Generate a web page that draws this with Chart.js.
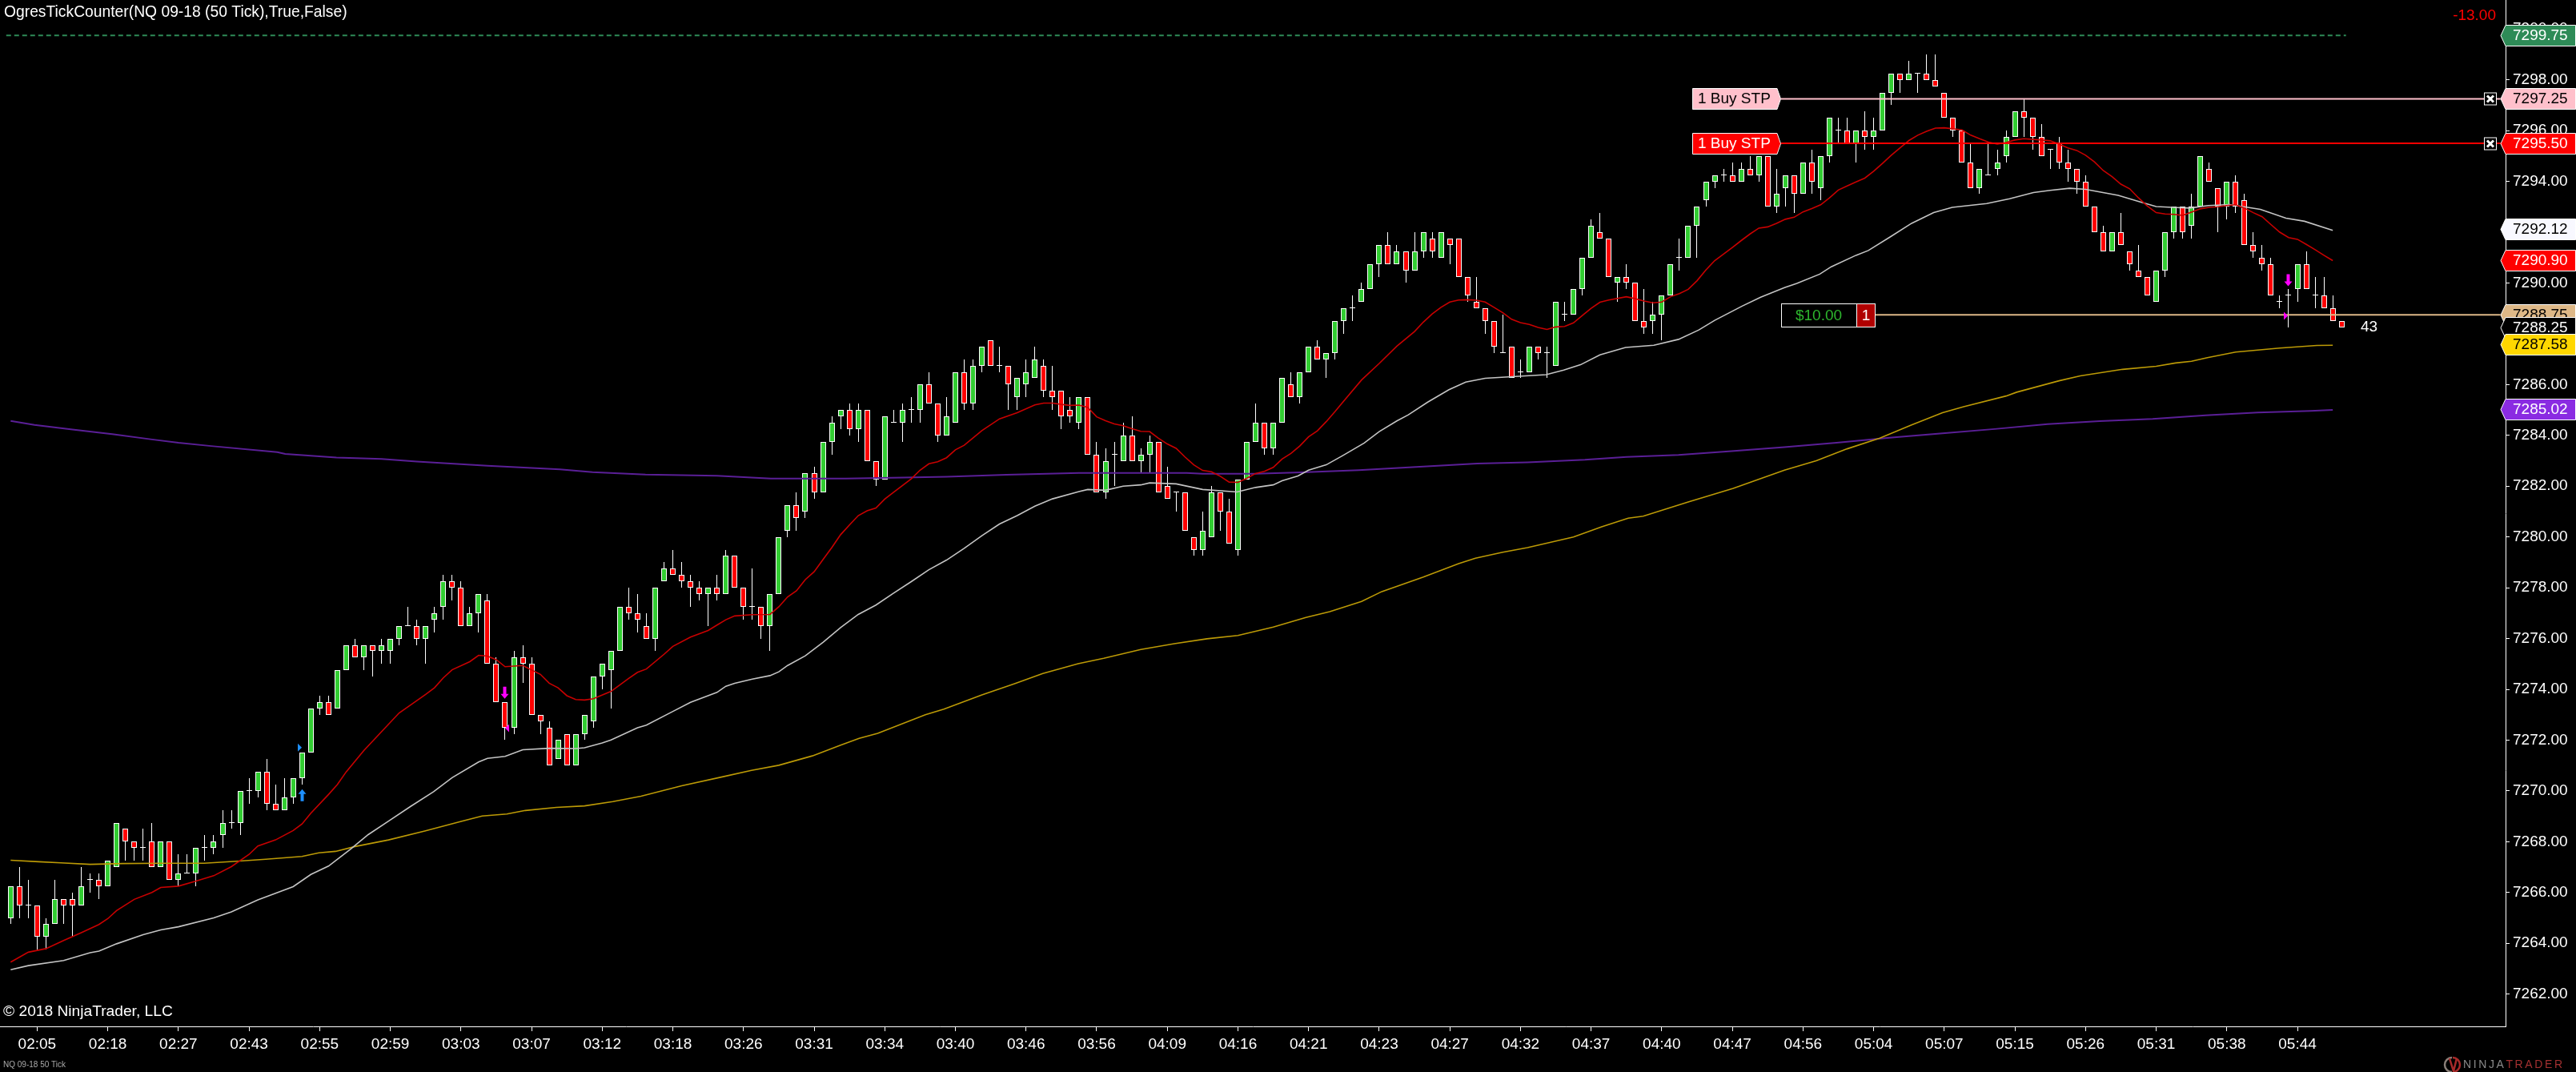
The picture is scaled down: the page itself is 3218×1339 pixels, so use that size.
<!DOCTYPE html>
<html><head><meta charset="utf-8">
<script src="https://cdn.jsdelivr.net/npm/chart.js@4"></script>
<style>html,body{margin:0;padding:0;background:#000;overflow:hidden}canvas{display:block}</style>
</head><body><canvas id="c" width="3218" height="1339"></canvas>
<script>
const opens=[7265,7266.25,7265.5,7265.5,7264.25,7264.75,7265.75,7265.75,7265.5,7266.5,
7266.5,7266.25,7267,7268.5,7268,7267.75,7268,7267,7268,7266.5,
7266.75,7266.75,7267.75,7267.75,7268.25,7268.75,7268.75,7270,7270,7270.75,
7269.5,7269.25,7269.75,7270.5,7271.5,7273.25,7273.5,7273.25,7274.75,7275.75,
7275.25,7275.75,7275.5,7275.5,7276,7276.5,7276.5,7276,7276.75,7277.25,
7278.25,7278,7276.5,7277,7277.5,7275,7273.5,7272.5,7275.25,7275,
7273,7272.5,7271.25,7272.25,7271,7272.25,7272.75,7274.5,7274.75,7275.5,
7277.25,7277,7276.5,7276,7278.25,7278.75,7278.5,7278.25,7278,7277.75,
7278,7277.75,7279.25,7278,7277.25,7277.25,7276.5,7277.75,7280.25,7281.25,
7281,7282.5,7281.75,7283.75,7284.75,7285,7284.25,7285,7283,7282.25,
7284.5,7284.5,7285,7285,7286,7285.25,7284,7284.5,7286.5,7285.25,
7286.75,7287.75,7286.75,7286.75,7285.5,7286,7286.25,7286.75,7285.75,7285.75,
7285,7284.5,7285.5,7283.25,7281.75,7283.25,7283,7284,7283,7283.25,
7283.75,7282,7281.75,7281.75,7280,7279.5,7280,7281.75,7281,7279.5,
7282.25,7283.75,7284.5,7283.5,7284.5,7286,7285.5,7286.5,7287.5,7287,
7287.25,7288.5,7289,7289.25,7289.75,7290.75,7291.5,7290.75,7291.25,7290.5,
7291.25,7291.75,7291,7291.75,7291.75,7290.25,7289.25,7289,7288.5,7287.25,
7287.5,7286.5,7286.5,7287.5,7287.25,7286.75,7288.75,7288.75,7289.75,7291,
7292,7291.75,7290,7290.25,7290,7288.5,7288.5,7288.75,7289.5,7291,
7291,7292.25,7293.25,7294,7294.25,7294.25,7294,7294.5,7294.25,7295,
7293,7293.75,7294.25,7293.5,7294.75,7293.75,7295,7296,7296,7295.5,
7296,7295.75,7296,7297.5,7298.25,7298,7298.25,7298.25,7298,7297.5,
7296.5,7296,7294.75,7293.75,7294.25,7294.5,7295,7295.75,7296.75,7296.5,
7295.75,7295.25,7295.5,7294.75,7294.5,7294,7293,7292,7291.25,7292,
7291.25,7290.5,7290.25,7289.25,7290.5,7292,7293,7292.25,7293,7294.5,
7293.75,7293,7294,7293.25,7291.5,7291,7290.75,7289.25,7289.5,7289.75,
7290.75,7289.5,7289.5,7289,7288.5];
const highs=[7266.25,7267,7266.5,7265.5,7265,7266.5,7265.75,7266,7267,7266.75,
7266.75,7267.25,7268.75,7268.5,7268,7268.5,7268.75,7268,7268,7267.5,
7267.5,7267.75,7268.25,7268.25,7269.25,7269.25,7270,7270.5,7270.75,7271.25,
7270.25,7270.5,7270.5,7271.5,7273.25,7273.75,7273.75,7274.75,7275.75,7276,
7275.75,7275.75,7276,7276,7276.5,7277.25,7276.75,7276.5,7277.25,7278.5,
7278.5,7278.25,7277.25,7277.75,7277.75,7275.25,7273.5,7275.5,7275.75,7275.25,
7273,7272.75,7272,7272.25,7272.25,7273,7274.5,7275,7275.5,7277.25,
7278,7277.75,7277,7278,7279,7279.5,7279,7278.5,7278.25,7278,
7278.5,7279.5,7279.25,7278,7278.75,7277.25,7277.75,7280,7281.25,7281.75,
7282.5,7282.75,7283.75,7284.75,7285,7285.25,7285.25,7285,7283,7284.75,
7285,7285.25,7285.5,7286,7286.5,7285.25,7285.5,7286.5,7287,7287,
7287.5,7287.75,7287.5,7286.75,7286.25,7287,7287.5,7287,7286.75,7285.75,
7285.5,7285.5,7285.5,7283.75,7283.5,7283.75,7284.5,7284.75,7283.5,7284,
7283.75,7282.75,7281.75,7281.75,7280,7281,7282,7281.75,7281.5,7282.25,
7283.75,7285.25,7284.5,7284.5,7286.25,7286.5,7286.5,7287.5,7287.75,7287.25,
7288.5,7289,7289.5,7290,7290.75,7291.5,7292,7291.5,7291.25,7292,
7292,7292,7292,7291.75,7291.75,7290.25,7290.25,7289,7288.5,7288.75,
7287.5,7287,7287.5,7287.5,7287.5,7289.25,7289.25,7289.75,7291,7292.5,
7292.75,7291.75,7290.25,7290.75,7290,7289.75,7289.25,7289.5,7290.75,7291.75,
7292.25,7293,7294,7294.25,7294.5,7294.75,7294.75,7295,7295,7295,
7294.5,7294.25,7294.25,7294.75,7295.25,7295,7296.5,7296.5,7296.5,7296,
7296.75,7296.5,7297.5,7298.25,7298.25,7298.75,7298.25,7299,7299,7297.5,
7296.5,7296,7295.5,7294.5,7295.5,7295.25,7296,7296.75,7297.25,7296.5,
7296.25,7295.25,7295.75,7295.25,7294.5,7294.25,7293,7292.25,7292,7292.75,
7291.25,7291.5,7290.25,7290.5,7292,7293,7293,7293.5,7295,7294.75,
7293.75,7294,7294.25,7293.5,7292,7291.5,7291,7289.5,7289.75,7290.75,
7291.25,7290.25,7290.25,7289.5,7288.5];
const lows=[7264.75,7265,7265,7263.75,7263.75,7264.75,7264.75,7264.25,7265.5,7266,
7265.75,7266.25,7267,7267.25,7267.25,7267.25,7267,7267,7266.5,7266.25,
7266.75,7266.25,7267.25,7267.5,7267.75,7268.5,7268.25,7269.5,7269.75,7269.25,
7269.25,7269.25,7269.5,7270.25,7271.5,7273,7273,7273.25,7274.75,7275.25,
7274.75,7274.5,7275,7275,7275.75,7276.5,7275.75,7275,7276.25,7276.75,
7277.5,7276.5,7276.5,7276.25,7275,7273.5,7272,7272.25,7274.25,7273,
7272.25,7271,7271.25,7271,7271,7272,7272.5,7274,7273.25,7275.5,
7276.75,7276.25,7276,7275.5,7278.25,7278.5,7278,7277.25,7277.5,7276.5,
7277.5,7277.75,7278,7276.75,7276.75,7276,7275.5,7277.75,7280,7280.25,
7280.75,7281.5,7281.75,7283.25,7284.25,7284,7283.75,7283,7282,7282.25,
7284.5,7283.75,7284.5,7284.5,7285.25,7283.75,7284,7284.5,7285,7285,
7286.5,7286.75,7286.5,7285,7285,7285.5,7286.25,7285.5,7285,7284.25,
7284.5,7284.25,7283.25,7281.75,7281.5,7282,7283,7283,7282.5,7282.5,
7281.75,7281.5,7281,7280.25,7279.25,7279.25,7280,7280.25,7279.75,7279.25,
7282.25,7283.75,7283.25,7283.25,7284.5,7285.5,7285.25,7286.5,7287,7286.25,
7287,7288,7288.5,7289.25,7289.75,7290.25,7290.75,7290.75,7290,7290.5,
7291,7291,7291,7290.75,7290.25,7289.25,7289,7288,7287.25,7287.25,
7286.25,7286.25,7286.5,7287,7286.25,7286.75,7288.5,7288.75,7289.5,7291,
7291.75,7290.25,7289.25,7289.75,7288.5,7288,7288,7287.75,7289.5,7290.5,
7291,7291,7293,7293.75,7294,7294,7294,7294.25,7294,7293,
7292.75,7293,7292.75,7293.5,7293.5,7293.25,7294.75,7295.5,7295.5,7294.75,
7295.25,7295.25,7296,7297,7297.5,7298,7297.5,7298,7297.75,7296.5,
7295.75,7294.75,7293.75,7293.5,7294.25,7294.25,7294.75,7295.75,7295.75,7295.25,
7295,7294.5,7294.5,7294,7293.5,7293,7292,7291.25,7291.25,7291.5,
7290.5,7290.25,7289.5,7289.25,7290.25,7291.75,7291.75,7291.75,7293,7294,
7292,7292.5,7292.75,7291.5,7291,7290.5,7289.5,7289,7288.25,7289.25,
7289.75,7289,7289,7288.5,7288.25];
const closes=[7266.25,7265.5,7265.5,7264.25,7264.75,7265.75,7265.5,7265.5,7266.25,7266.5,
7266.25,7267.25,7268.75,7268,7267.75,7267.75,7267,7268,7266.5,7266.75,
7266.75,7267.75,7267.75,7268,7268.75,7268.75,7270,7270,7270.75,7269.5,
7269.25,7269.75,7270.5,7271.5,7273.25,7273.5,7273,7274.75,7275.75,7275.25,
7275.75,7275.5,7275.75,7276,7276.5,7276.5,7276,7276.5,7277,7278.25,
7278,7276.5,7277,7277.75,7275,7273.5,7272.5,7275.25,7275,7273,
7272.75,7271,7272,7271,7272.25,7273,7274.5,7275,7275.5,7277.25,
7277,7276.75,7276,7278,7278.75,7278.5,7278.25,7278,7277.75,7278,
7277.75,7279.25,7278,7277.25,7277.25,7276.5,7277.75,7280,7281.25,7280.75,
7282.5,7281.75,7283.75,7284.5,7285,7284.25,7285,7283,7282.25,7284.75,
7284.5,7285,7285,7286,7285.25,7284,7284.75,7286.5,7285.25,7286.75,
7287.5,7286.75,7286.75,7286,7286.25,7286.5,7287,7285.75,7285.5,7284.75,
7284.75,7285.5,7283.25,7281.75,7283,7283.25,7284,7283,7283.25,7283.75,
7281.75,7281.5,7281.75,7280.25,7279.5,7280.25,7281.75,7281,7279.75,7282.25,
7283.75,7284.5,7283.5,7284.5,7286.25,7285.5,7286.5,7287.5,7287,7287.25,
7288.5,7289,7289,7289.75,7290.75,7291.5,7290.75,7291.25,7290.5,7291.25,
7292,7291.25,7292,7291.5,7290.25,7289.5,7289,7288.5,7287.5,7287.25,
7286.25,7286.5,7287.5,7287.25,7287.25,7289.25,7288.75,7289.75,7291,7292.25,
7291.75,7290.25,7290.25,7290,7288.5,7288.25,7288.75,7289.5,7290.75,7291,
7292.25,7293,7294,7294.25,7294.25,7294,7294.5,7294.25,7295,7293,
7293.5,7294.25,7293.5,7294.75,7294,7295,7296.5,7296,7295.5,7296,
7295.75,7296,7297.5,7298.25,7298,7298.25,7298.25,7298,7297.75,7296.5,
7296,7294.75,7293.75,7294.5,7294.25,7294.75,7295.75,7296.75,7296.5,7295.75,
7295,7295.25,7294.75,7294.5,7294,7293,7292,7291.25,7292,7291.5,
7290.75,7290.25,7289.5,7290.5,7292,7293,7292,7293,7295,7294,
7293,7294,7293,7291.5,7291.25,7290.75,7289.5,7289.25,7289.5,7290.75,
7289.75,7289.5,7289,7288.5,7288.25];

const timeLabels=['02:05','02:18','02:27','02:43','02:55','02:59','03:03','03:07','03:12','03:18','03:26','03:31','03:34','03:40','03:46','03:56','04:09','04:16','04:21','04:23','04:27','04:32','04:37','04:40','04:47','04:56','05:04','05:07','05:15','05:26','05:31','05:38','05:44'];
const timeTickBars=[3,11,19,27,35,43,51,59,67,75,83,91,99,107,115,123,131,139,147,155,163,171,179,187,195,203,211,219,227,235,243,251,259];
const priceTicks=[7262,7264,7266,7268,7270,7272,7274,7276,7278,7280,7282,7284,7286,7288,7290,7292,7294,7296,7298,7300];

const redBars=[0,2,4,6,8,10,11,12,14,16,17,19,21,23,25,27,28,30,32,33,34,36,37,38,40,42,44,45,47,48,49,50,52,53,54,55,56,58,60,61,62,63,64,65,66,68,70,71,72,74,75,77,79,80,81,82,84,86,87,88,89,90,91,92,93,94,95,96,97,98,99,100,102,103,104,105,106,107,108,110,112,114,116,117,118,119,120,121,122,123,124,125,126,127,128,129,130,131,132,133,134,135,136,137,138,139,140,141,142,143,144,145,146,147,148,149,150,151,153,155,157,159,160,161,162,163,164,165,166,167,168,169,170,171,172,173,174,175,176,177,178,179,180,181,183,184,185,186,187,188,189,190,191,192,193,194,195,196,197,198,199,200,201,202,203,204,205,206,207,208,209,210,211,212,213,214,215,216,217,218,219,221,222,223,224,225,226,227,228,230,231,232,233,234,235,236,237,238,239,240,241,242,243,244,245,246,248,249,250,251,252,253,254,255,256,257,258,259,260,261,262,263];
const redEma=[7263.26,7263.65,7263.79,7264.11,7264.42,7264.74,7264.97,7265.29,7265.73,7266,7266.2,7266.25,7266.45,7266.66,7267.02,7267.5,7267.83,7268.07,7268.44,7268.7,7269.12,7269.86,7270.25,7270.75,7271.59,7272.33,7273.07,7273.31,7273.8,7274.06,7274.45,7274.77,7275.09,7275.34,7275.31,7275.17,7274.89,7274.94,7274.59,7274.24,7274.06,7273.75,7273.6,7273.58,7273.63,7273.92,7274.43,7274.67,7274.8,7275.38,7275.69,7276.06,7276.32,7276.53,7276.74,7276.89,7276.94,7276.95,7277.25,7277.64,7277.88,7278.32,7278.63,7279.11,7279.58,7280.09,7280.47,7280.84,7281.03,7281.14,7281.49,7281.76,7282.29,7282.63,7282.88,7282.96,7283.12,7283.43,7283.61,7284.19,7284.65,7284.89,7285.2,7285.27,7285.27,7285.22,7285.18,7285.19,7285.1,7284.73,7284.58,7284.45,7284.38,7284.26,7284.16,7284.15,7283.89,7283.66,7283.49,7283.15,7282.84,7282.62,7282.57,7282.39,7282.16,7282.15,7282.31,7282.5,7282.58,7282.74,7283.07,7283.29,7283.58,7283.94,7284.18,7284.54,7284.94,7285.36,7286.18,7286.83,7287.51,7288.09,7288.46,7288.78,7289.04,7289.25,7289.33,7289.34,7289.32,7289.25,7289.04,7288.83,7288.57,7288.44,7288.37,7288.25,7288.17,7288.27,7288.29,7288.43,7288.72,7289,7289.24,7289.33,7289.46,7289.38,7289.29,7289.22,7289.25,7289.46,7289.58,7289.75,7290.09,7290.51,7290.88,7291.14,7291.4,7291.67,7291.93,7292.16,7292.21,7292.35,7292.51,7292.59,7292.8,7292.93,7293.08,7293.35,7293.66,7293.82,7293.98,7294.13,7294.4,7294.71,7295.03,7295.32,7295.61,7295.82,7295.97,7296.1,7296.11,7296.03,7295.82,7295.68,7295.55,7295.47,7295.53,7295.63,7295.68,7295.63,7295.6,7295.47,7295.32,7295.22,7295.03,7294.77,7294.43,7294.19,7293.89,7293.71,7293.35,7293.03,7292.77,7292.72,7292.7,7292.66,7292.92,7292.98,7293,7293.05,7293.08,7292.95,7292.77,7292.61,7292.3,7292,7291.79,7291.72,7291.52,7291.31,7291.09,7290.88];

const silverBars=[0,2,6,9,10,12,15,17,19,23,25,28,32,34,36,38.5,40.5,42.8,45.3,47.9,50,53,54,56,58,61,64,65,67,68,71,72,75,77,80,81,82,84,86,87,88,90,92,94,96,98,100,102,104,106,108,110,112,114,116,118,121,122,124,126,128,129,132,135,138.9,141,143,144,145.8,147,149,150.9,153.3,155,157,158.3,160.5,162.9,164.8,167,170,173.9,175.9,177.8,180,182.9,186.1,188.9,191.2,193,196.1,198.2,200.9,202.3,204.9,206.2,209,210.4,212.9,215.3,217.8,219.9,223.8,226.4,229.1,231,233.2,235,238.7,241.2,243,245.3,246.8,248.9,251.3,252.8,254.8,257.7,259.8,263];
const silverEma=[7262.96,7263.12,7263.32,7263.63,7263.69,7263.98,7264.34,7264.53,7264.65,7265,7265.24,7265.71,7266.23,7266.71,7267.04,7267.71,7268.28,7268.81,7269.39,7269.97,7270.52,7271.14,7271.28,7271.36,7271.62,7271.68,7271.67,7271.7,7271.89,7272.01,7272.49,7272.59,7273.13,7273.49,7273.88,7274.12,7274.24,7274.4,7274.54,7274.69,7274.94,7275.32,7275.85,7276.43,7276.95,7277.32,7277.79,7278.24,7278.71,7279.09,7279.55,7280.05,7280.51,7280.84,7281.21,7281.5,7281.79,7281.87,7281.84,7282,7282.05,7282.13,7282.09,7281.87,7281.77,7281.95,7282.05,7282.21,7282.4,7282.63,7282.84,7283.21,7283.7,7284.15,7284.57,7284.81,7285.31,7285.8,7286.1,7286.25,7286.31,7286.39,7286.57,7286.78,7287.17,7287.46,7287.55,7287.78,7288.15,7288.53,7289.09,7289.44,7289.82,7289.98,7290.35,7290.64,7291.09,7291.28,7291.82,7292.35,7292.77,7292.98,7293.13,7293.32,7293.56,7293.65,7293.73,7293.69,7293.45,7293.19,7293.01,7292.97,7292.95,7293.05,7293.09,7293.01,7292.9,7292.55,7292.43,7292.07];

const goldBars=[0,3.2,5.7,9,12.7,17.3,21.9,25.6,28.9,33,34.9,36.8,39,42.8,46.9,51.1,53.4,56.2,58.3,61.8,65,68.2,71.4,76,80.7,83.9,87,90.8,94,96.1,98.2,103.6,105.7,110,113.7,116.9,120.9,123.8,128,131.8,135.5,139,143,146.7,149.4,153,155.3,160,164,165.9,169,171.8,177,180.2,183.2,184.9,190,195.1,197.9,200.9,204.5,208,211.7,215.3,218.8,221.2,226,227.2,232,234.4,239.2,243,245.2,247,248.8,252,257,261.2,263];
const goldEma=[7267.27,7267.21,7267.17,7267.11,7267.14,7267.15,7267.15,7267.23,7267.31,7267.42,7267.56,7267.62,7267.81,7268.07,7268.42,7268.81,7269.01,7269.09,7269.23,7269.35,7269.41,7269.58,7269.79,7270.2,7270.56,7270.81,7271.01,7271.38,7271.8,7272.07,7272.27,7273,7273.22,7273.78,7274.22,7274.62,7275.01,7275.22,7275.57,7275.8,7275.99,7276.12,7276.45,7276.83,7277.06,7277.46,7277.85,7278.42,7278.95,7279.16,7279.4,7279.58,7280,7280.4,7280.74,7280.82,7281.38,7281.91,7282.26,7282.63,7283,7283.47,7283.89,7284.41,7284.89,7285.13,7285.55,7285.7,7286.15,7286.34,7286.6,7286.72,7286.85,7286.92,7287.06,7287.28,7287.44,7287.54,7287.55];

const purpleBars=[0,2.7,7,11.5,16,19,22.7,30.2,31.1,36.9,42,46,54,62.2,65.9,71.9,80,86.1,94.6,101.1,106,112.8,121,133.2,135,141,146.2,152.7,160,166.1,171.8,178.3,183,188.9,194.9,200.9,206.8,212.8,218.8,224.7,230.7,236.6,242.6,248.6,254.5,260.5,263];
const purpleSma=[7284.57,7284.41,7284.23,7284.05,7283.84,7283.71,7283.58,7283.34,7283.27,7283.13,7283.07,7282.97,7282.8,7282.66,7282.55,7282.46,7282.41,7282.3,7282.3,7282.34,7282.37,7282.45,7282.52,7282.52,7282.49,7282.49,7282.54,7282.63,7282.77,7282.89,7282.94,7283.04,7283.15,7283.23,7283.38,7283.54,7283.71,7283.91,7284.08,7284.25,7284.44,7284.56,7284.65,7284.79,7284.9,7284.96,7285];

const lastPriceLine=7299.75;
const orderPrices=[7297.25,7295.5];
const orderColors=['#FFC0CB','#FF0000'];
const orderInks=['#000000','#FFFFFF'];
const positionPrice=7288.75;

const tagPrices=[7299.75,7297.25,7295.5,7292.12,7290.9,7288.75,7288.25,7287.58,7285.02];
const tagFills=['#2E8B57','#FFC0CB','#FF0000','#F8F8FF','#FF0000','#DEB887','#000000','#FFD700','#8A2BE2'];
const tagInks=['#FFFFFF','#000000','#FFFFFF','#000000','#FFFFFF','#000000','#FFFFFF','#000000','#FFFFFF'];

const arrowBars=[33,56,258];
const arrowTips=[7270.07,7273.63,7289.87];
const arrowDirs=['up','down','down'];
const arrowColors=['#1E90FF','#FF00FF','#FF00FF'];
const flagBars=[33,56,258];
const flagPrices=[7271.71,7272.47,7288.71];
const flagDirs=['right','left','right'];
const flagColors=['#1E90FF','#FF00FF','#FF00FF'];

const FONT='"Liberation Sans", Arial, sans-serif';
const zip=(xs,ys)=>xs.map((x,i)=>({x,y:ys[i]}));
const barIdx=opens.map((_,i)=>i);
const isDoji=i=>opens[i]===closes[i];
const lineDs=(label,xs,ys,color,width,order,extra)=>({type:'line',label,data:zip(xs,ys),borderColor:color,borderWidth:width,pointRadius:0,tension:0,order,fill:false,...(extra||{})});

const snap={id:'snap',beforeDatasetsDraw(chart){
  chart.data.datasets.forEach((d,di)=>{
    if(d.type==='line')return;
    const m=chart.getDatasetMeta(di);
    m.data.forEach(el=>{
      el.x=Math.floor(el.x)+0.5;
      el.y=Math.round(el.y);el.base=Math.round(el.base);
      if(Math.abs(el.base-el.y)<1)el.base=el.y+1;
    });
  });
}};

const overlay={id:'overlay',afterDraw(chart){
  const c=chart.ctx,X=chart.scales.x,Y=chart.scales.y;
  const text=(s,x,y,col,size=19,al='left')=>{c.font=size+'px '+FONT;c.fillStyle=col;c.textAlign=al;c.textBaseline='middle';c.fillText(s,x,y);};
  c.save();
  arrowBars.forEach((b,i)=>{
    const x=Math.floor(X.getPixelForValue(b))+0.5,t=Y.getPixelForValue(arrowTips[i]),s=arrowDirs[i]==='up'?1:-1;
    c.fillStyle=arrowColors[i];c.beginPath();
    c.moveTo(x,t);c.lineTo(x+5,t+6*s);c.lineTo(x+2,t+6*s);c.lineTo(x+2,t+15*s);c.lineTo(x-2,t+15*s);c.lineTo(x-2,t+6*s);c.lineTo(x-5,t+6*s);c.closePath();c.fill();
  });
  flagBars.forEach((b,i)=>{
    const x=Math.floor(X.getPixelForValue(b)),y=Y.getPixelForValue(flagPrices[i]);
    c.fillStyle=flagColors[i];c.beginPath();
    if(flagDirs[i]==='right'){c.moveTo(x,y);c.lineTo(x-5,y-5);c.lineTo(x-5,y+5);}
    else{c.moveTo(x+1,y);c.lineTo(x+6,y-5);c.lineTo(x+6,y+5);}
    c.closePath();c.fill();
  });
  orderPrices.forEach((p,i)=>{
    const y=Math.round(Y.getPixelForValue(p))+0.5;
    c.beginPath();c.moveTo(2114.5,y-13);c.lineTo(2220,y-13);c.lineTo(2224.5,y);c.lineTo(2220,y+13);c.lineTo(2114.5,y+13);c.closePath();
    c.fillStyle=orderColors[i];c.fill();c.strokeStyle='#fff';c.lineWidth=1;c.stroke();
    text('1 Buy STP',2121,y,orderInks[i]);
    c.fillStyle='#000';c.fillRect(3103.5,y-7.5,15,15);c.strokeStyle='#fff';c.strokeRect(3103.5,y-7.5,15,15);
    c.lineWidth=3;c.beginPath();c.moveTo(3107,y-4);c.lineTo(3115,y+4);c.moveTo(3115,y-4);c.lineTo(3107,y+4);c.stroke();c.lineWidth=1;
  });
  const py=Math.round(Y.getPixelForValue(positionPrice))+0.5;
  c.fillStyle='#000';c.fillRect(2225.5,py-14,94,29);c.strokeStyle='#fff';c.strokeRect(2225.5,py-14,94,29);
  c.fillStyle='#B00000';c.fillRect(2319.5,py-14,23,29);c.strokeRect(2319.5,py-14,23,29);
  text('$10.00',2272,py+1,'#2DB52D',19,'center');
  text('1',2331,py+1,'#FFFFFF',19,'center');
  text('43',2949,409,'#FFFFFF');
  text('-13.00',3118,20,'#FF0000',19,'right');
  text('OgresTickCounter(NQ 09-18 (50 Tick),True,False)',5,16,'#FFFFFF',19.3);
  text('\u00A9 2018 NinjaTrader, LLC',4,1264,'#FFFFFF',19.2);
  text('NQ 09-18 50 Tick',4,1330,'#AAAAAA',10);
  tagPrices.forEach((p,i)=>{
    const y=Math.round(Y.getPixelForValue(p))+0.5;
    c.beginPath();c.moveTo(3124,y);c.lineTo(3130,y-13);c.lineTo(3217.5,y-13);c.lineTo(3217.5,y+13);c.lineTo(3130,y+13);c.closePath();
    c.fillStyle=tagFills[i];c.fill();c.strokeStyle='#fff';c.lineWidth=1;c.stroke();
    text(p.toFixed(2),3139,y,tagInks[i]);
  });
  c.lineWidth=2.5;c.strokeStyle='#8A7F78';c.beginPath();c.arc(3063,1330,9,Math.PI*0.5,Math.PI*1.5);c.stroke();
  c.strokeStyle='#A82A2A';c.beginPath();c.arc(3064,1330,9,-Math.PI*0.5,Math.PI*0.5);c.stroke();
  c.beginPath();c.moveTo(3060,1322);c.lineTo(3065,1338);c.lineTo(3069,1322);c.stroke();
  c.font='14px '+FONT;c.textAlign='left';c.textBaseline='middle';c.letterSpacing='2.6px';
  c.fillStyle='#8A8A8A';c.fillText('NINJA',3077,1330);
  const w=c.measureText('NINJA').width;
  c.fillStyle='#A33030';c.fillText('TRADER',3077+w,1330);
  c.letterSpacing='0px';
  c.restore();
}};

const barOpts={grouped:false,inflateAmount:0,borderSkipped:false};
new Chart(document.getElementById('c'),{
  type:'bar',
  plugins:[snap,overlay],
  data:{datasets:[
    lineDs('Last price',[-0.5,264.5],[lastPriceLine,lastPriceLine],'#2E8B57',2,-2,{borderDash:[6,4]}),
    lineDs('Order 1',[200.5,282],[orderPrices[0],orderPrices[0]],orderColors[0],2,-3),
    lineDs('Order 2',[200.5,282],[orderPrices[1],orderPrices[1]],orderColors[1],2,-3),
    lineDs('Position',[211.1,282],[positionPrice,positionPrice],'#DEB887',2,-3),
    lineDs('EMA fast',redBars,redEma,'#C80000',1.6,0),
    lineDs('EMA mid',silverBars,silverEma,'#C4C4C4',1.6,1),
    lineDs('EMA slow',goldBars,goldEma,'#BC9A06',1.6,2),
    lineDs('SMA long',purpleBars,purpleSma,'#5A1F96',2,3),
    {type:'bar',label:'Body',...barOpts,order:4,barThickness:7,borderWidth:1,borderColor:'#FFFFFF',
      data:barIdx.filter(i=>!isDoji(i)).map(i=>({x:i,y:[opens[i],closes[i]]})),
      backgroundColor:barIdx.filter(i=>!isDoji(i)).map(i=>closes[i]>opens[i]?'#32CD32':'#FF0000')},
    {type:'bar',label:'Doji',...barOpts,order:4,barThickness:7,minBarLength:1,borderWidth:0,backgroundColor:'#FFFFFF',
      data:barIdx.filter(isDoji).map(i=>({x:i,y:[closes[i],closes[i]]}))},
    {type:'bar',label:'Wick',...barOpts,order:5,barThickness:1,borderWidth:0,backgroundColor:'#FFFFFF',
      data:barIdx.map(i=>({x:i,y:[lows[i],highs[i]]}))}
  ]},
  options:{
    responsive:false,animation:false,devicePixelRatio:1,
    layout:{padding:0},
    plugins:{legend:{display:false},title:{display:false},tooltip:{enabled:false}},
    scales:{
      x:{type:'linear',position:'bottom',offset:false,min:-1.206,max:282.57,
        grid:{offset:false,drawOnChartArea:false,color:'#FFFFFF',tickLength:6,lineWidth:1},
        border:{color:'#FFFFFF',width:1},
        afterBuildTicks(s){s.ticks=timeTickBars.map(v=>({value:v}));},
        afterFit(s){s.height=57;s.paddingLeft=0;s.paddingRight=0;},
        ticks:{autoSkip:false,maxRotation:0,color:'#FFFFFF',padding:5,font:{family:FONT,size:19},
          callback:(v,i)=>timeLabels[i]}},
      y:{type:'linear',position:'right',min:7260.729,max:7301.143,
        grid:{drawOnChartArea:false,color:'#FFFFFF',tickLength:5,lineWidth:1},
        border:{color:'#FFFFFF',width:1},
        afterBuildTicks(s){s.ticks=priceTicks.map(v=>({value:v}));},
        afterFit(s){s.width=88;s.paddingTop=0;s.paddingBottom=0;},
        ticks:{autoSkip:false,color:'#FFFFFF',padding:4,font:{family:FONT,size:19},
          callback:v=>Number(v).toFixed(2)}}
    }
  }
});
</script></body></html>
